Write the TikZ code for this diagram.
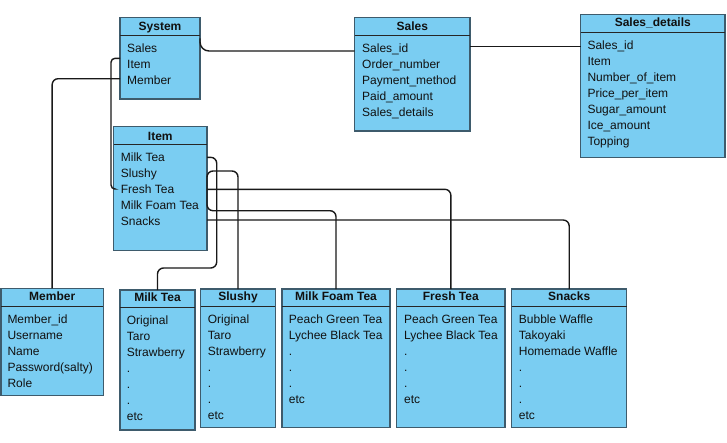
\documentclass[tikz,border=0pt]{standalone}
\usepackage{fontspec}
\setmainfont{Liberation Sans}
\definecolor{boxfill}{HTML}{7ACDF2}
\definecolor{boxline}{HTML}{3E5B6C}
\definecolor{txt}{HTML}{111111}
\tikzset{
  tbl/.style={draw=boxline, fill=boxfill, line width=1.5pt, anchor=north west, inner sep=0pt, outer sep=0pt},
  hdr/.style={draw=black!85, line width=1pt},
  row/.style={anchor=base west, inner sep=0pt, text=txt, font=\fontsize{12}{14}\selectfont},
  ttl/.style={anchor=base, inner sep=0pt, text=txt, font=\fontsize{12}{14}\selectfont\bfseries},
  conn/.style={draw=black!90, line width=1.4pt, rounded corners=6pt}
}
\begin{document}
\begin{tikzpicture}[x=1pt,y=-1pt]
\useasboundingbox (0,0) rectangle (727,442);

% ---------- System ----------
\node[tbl, minimum width=80pt, minimum height=81.3pt] (system) at (120,17.7) {};
\draw[hdr] (system.west |- 0,35.3) -- (system.east |- 0,35.3);
\node[ttl] (systemT) at (160,30) {System};
\node[row] (sysSales) at (127,52) {Sales};
\node[row] (sysItem) at (127,68) {Item};
\node[row] (sysMember) at (127,84) {Member};

% ---------- Item ----------
\node[tbl, minimum width=93.3pt, minimum height=124pt] (item) at (113.7,126.7) {};
\draw[hdr] (item.west |- 0,144.7) -- (item.east |- 0,144.7);
\node[ttl] (itemT) at (160.3,140) {Item};
\node[row] (itMilk) at (120.7,161) {Milk Tea};
\node[row] (itSlushy) at (120.7,177) {Slushy};
\node[row] (itFresh) at (120.7,193) {Fresh Tea};
\node[row] (itFoam) at (120.7,209) {Milk Foam Tea};
\node[row] (itSnacks) at (120.7,225) {Snacks};

% ---------- Sales ----------
\node[tbl, minimum width=115.3pt, minimum height=113.3pt] (sales) at (354.7,17.7) {};
\draw[hdr] (sales.west |- 0,35) -- (sales.east |- 0,35);
\node[ttl] (salesT) at (412.3,30) {Sales};
\node[row] (saId) at (362,52) {Sales\_id};
\node[row] (saOrder) at (362,68) {Order\_number};
\node[row] (saPay) at (362,84) {Payment\_method};
\node[row] (saPaid) at (362,100) {Paid\_amount};
\node[row] (saDet) at (362,116) {Sales\_details};

% ---------- Sales_details ----------
\node[tbl, minimum width=144.3pt, minimum height=143.4pt] (details) at (580.7,14.3) {};
\draw[hdr] (details.west |- 0,32.3) -- (details.east |- 0,32.3);
\node[ttl] (detailsT) at (652.8,26.7) {Sales\_details};
\node[row] (sdId) at (587.3,49) {Sales\_id};
\node[row] (sdItem) at (587.3,65) {Item};
\node[row] (sdNum) at (587.3,81) {Number\_of\_item};
\node[row] (sdPrice) at (587.3,97) {Price\_per\_item};
\node[row] (sdSugar) at (587.3,113) {Sugar\_amount};
\node[row] (sdIce) at (587.3,129) {Ice\_amount};
\node[row] (sdTop) at (587.3,145) {Topping};

% ---------- Member ----------
\node[tbl, minimum width=102.3pt, minimum height=107.4pt] (member) at (1,288.3) {};
\draw[hdr] (member.west |- 0,306.7) -- (member.east |- 0,306.7);
\node[ttl] (memberT) at (52.2,300.7) {Member};
\node[row] (meId) at (7.3,323) {Member\_id};
\node[row] (meUser) at (7.3,339) {Username};
\node[row] (meName) at (7.3,355) {Name};
\node[row] (mePass) at (7.3,371) {Password(salty)};
\node[row] (meRole) at (7.3,387) {Role};

% ---------- Milk Tea ----------
\node[tbl, minimum width=75pt, minimum height=140pt] (milktea) at (120,290) {};
\draw[hdr] (milktea.west |- 0,307.7) -- (milktea.east |- 0,307.7);
\node[ttl] (milkteaT) at (157.5,301.7) {Milk Tea};
\node[row] (mt1) at (126.7,324) {Original};
\node[row] (mt2) at (126.7,340) {Taro};
\node[row] (mt3) at (126.7,356) {Strawberry};
\node[row] (mt4) at (126.7,372) {.};
\node[row] (mt5) at (126.7,388) {.};
\node[row] (mt6) at (126.7,404) {.};
\node[row] (mt7) at (126.7,420) {etc};

% ---------- Slushy ----------
\node[tbl, minimum width=74.6pt, minimum height=138.7pt] (slushy) at (200.7,289) {};
\draw[hdr] (slushy.west |- 0,306.7) -- (slushy.east |- 0,306.7);
\node[ttl] (slushyT) at (238,300.7) {Slushy};
\node[row] (sl1) at (207.7,323) {Original};
\node[row] (sl2) at (207.7,339) {Taro};
\node[row] (sl3) at (207.7,355) {Strawberry};
\node[row] (sl4) at (207.7,371) {.};
\node[row] (sl5) at (207.7,387) {.};
\node[row] (sl6) at (207.7,403) {.};
\node[row] (sl7) at (207.7,419) {etc};

% ---------- Milk Foam Tea ----------
\node[tbl, minimum width=108pt, minimum height=138.7pt] (foam) at (282,289) {};
\draw[hdr] (foam.west |- 0,306.7) -- (foam.east |- 0,306.7);
\node[ttl] (foamT) at (336,300.7) {Milk Foam Tea};
\node[row] (mf1) at (288.7,323) {Peach Green Tea};
\node[row] (mf2) at (288.7,339) {Lychee Black Tea};
\node[row] (mf3) at (288.7,355) {.};
\node[row] (mf4) at (288.7,371) {.};
\node[row] (mf5) at (288.7,387) {.};
\node[row] (mf6) at (288.7,403) {etc};

% ---------- Fresh Tea ----------
\node[tbl, minimum width=108.3pt, minimum height=138.7pt] (fresh) at (396.7,289) {};
\draw[hdr] (fresh.west |- 0,306.7) -- (fresh.east |- 0,306.7);
\node[ttl] (freshT) at (450.8,300.7) {Fresh Tea};
\node[row] (ft1) at (404,323) {Peach Green Tea};
\node[row] (ft2) at (404,339) {Lychee Black Tea};
\node[row] (ft3) at (404,355) {.};
\node[row] (ft4) at (404,371) {.};
\node[row] (ft5) at (404,387) {.};
\node[row] (ft6) at (404,403) {etc};

% ---------- Snacks ----------
\node[tbl, minimum width=115pt, minimum height=138.7pt] (snacks) at (511.7,289) {};
\draw[hdr] (snacks.west |- 0,306.7) -- (snacks.east |- 0,306.7);
\node[ttl] (snacksT) at (569.2,300.7) {Snacks};
\node[row] (sn1) at (518.7,323) {Bubble Waffle};
\node[row] (sn2) at (518.7,339) {Takoyaki};
\node[row] (sn3) at (518.7,355) {Homemade Waffle};
\node[row] (sn4) at (518.7,371) {.};
\node[row] (sn5) at (518.7,387) {.};
\node[row] (sn6) at (518.7,403) {.};
\node[row] (sn7) at (518.7,419) {etc};

% ---------- Connectors ----------
\draw[conn, rounded corners=9pt] (system.east |- 0,38.3) |- (sales.west |- 0,51);
\draw[conn] (sales.east |- 0,46.5) -- (details.west |- 0,46.5);
\draw[conn] (system.west |- 0,78.7) -| (member.north);
\draw[conn, rounded corners=4pt] (system.west |- 0,58.3) -- ++(-9,0) |- (item.west |- 0,189);
\draw[conn] (item.east |- 0,157.3) -- ++(9.7,0) -- ++(0,110.7) -| (milktea.north);
\draw[conn] (item.east |- 0,185) -- (item.east |- 0,171) -| (slushy.north);
\draw[conn] (item.east |- 0,185) -- (item.east |- 0,210.7) -| (foam.north);
\draw[conn] (item.east |- 0,189.3) -| (fresh.north);
\draw[conn] (item.east |- 0,220) -| (snacks.north);
\end{tikzpicture}
\end{document}
